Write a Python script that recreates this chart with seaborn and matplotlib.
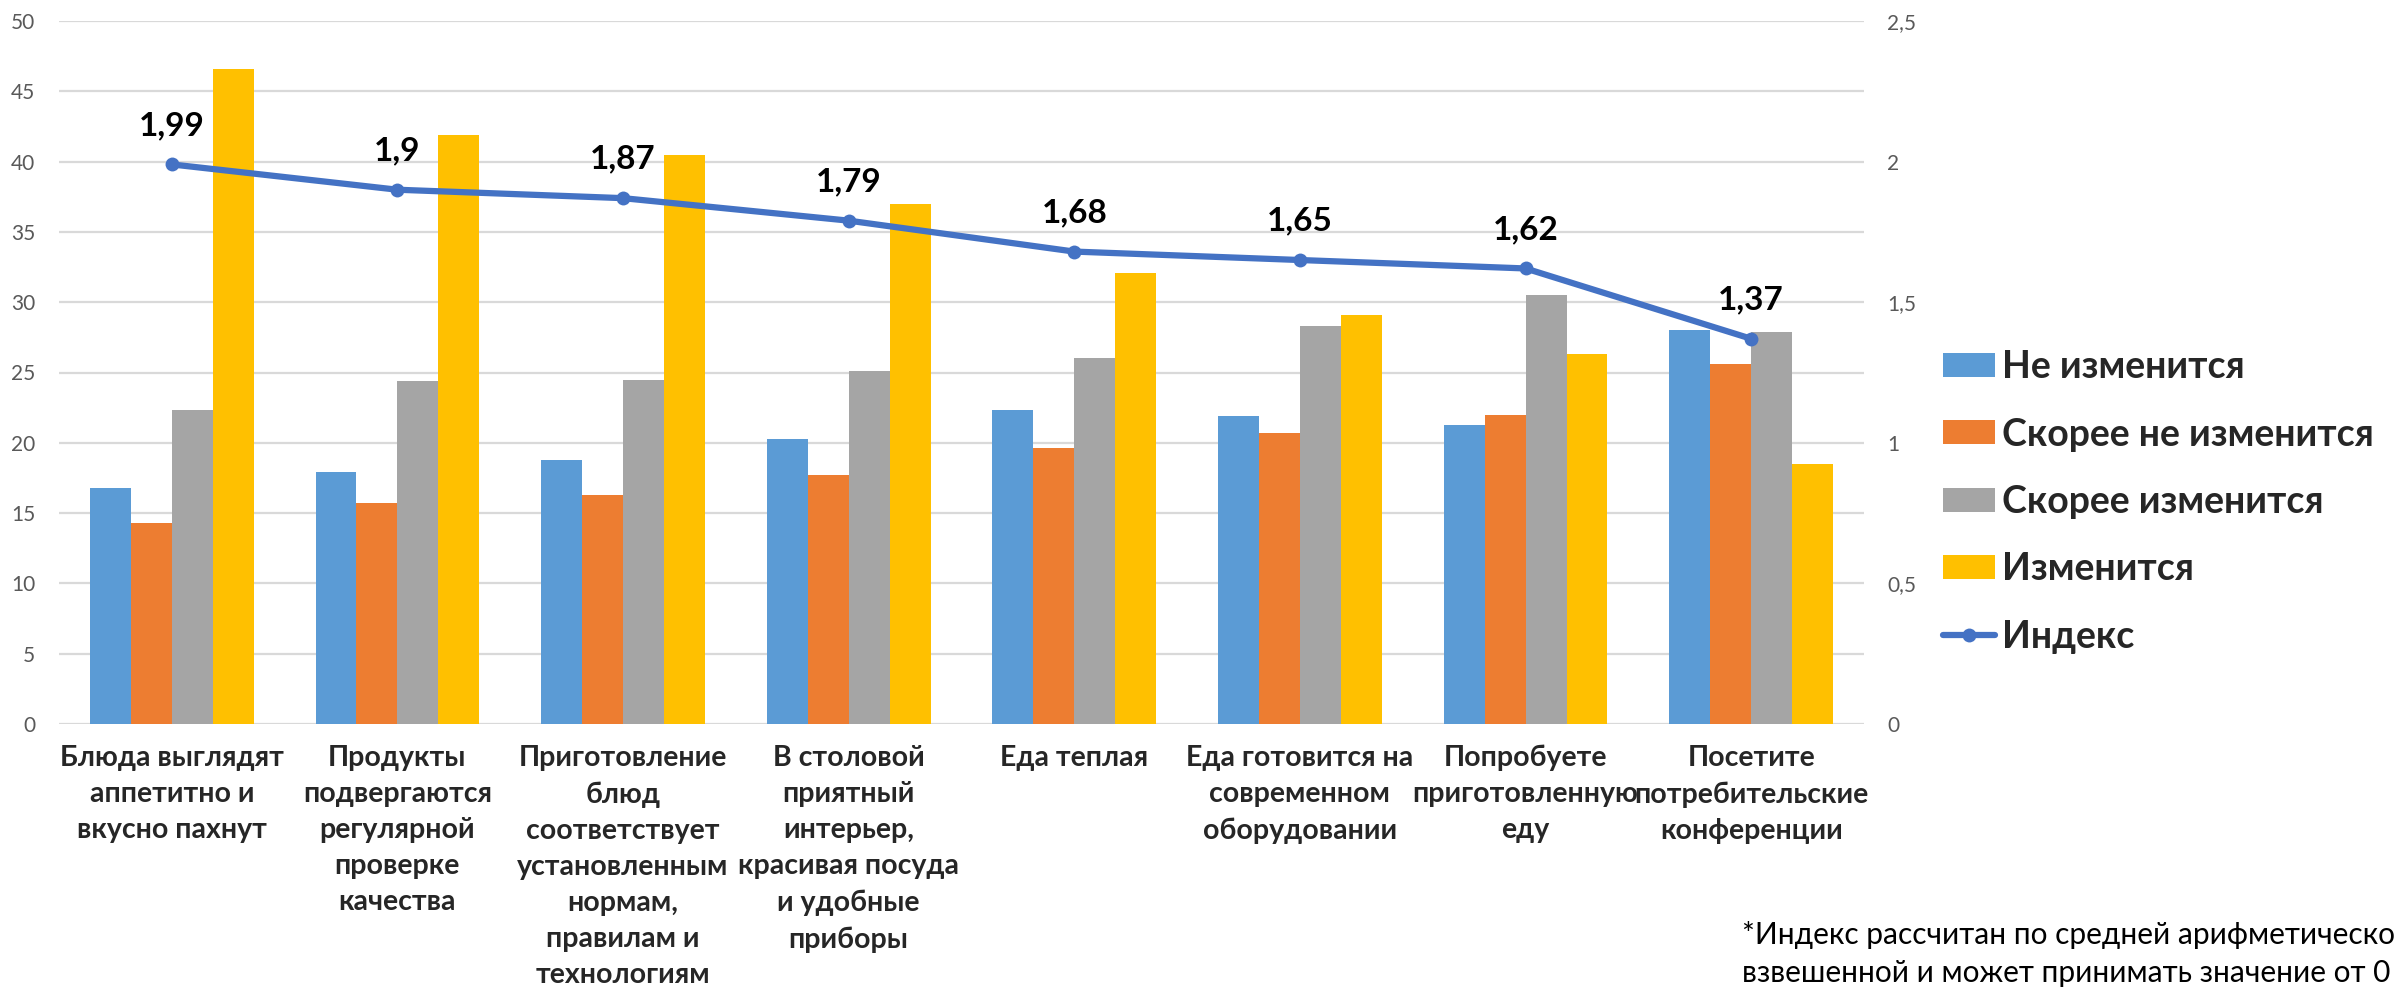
import numpy as np
import pandas as pd
import matplotlib
matplotlib.use('Agg')
import matplotlib.pyplot as plt
from matplotlib.ticker import FuncFormatter
from matplotlib.patches import Patch
from matplotlib.lines import Line2D
import seaborn as sns

sns.set_style('white')
plt.rcParams['font.family'] = ['Lato', 'Open Sans', 'DejaVu Sans']

# категории (подписи оси X)
categories = [
    'Блюда выглядят\nаппетитно и\nвкусно пахнут',
    'Продукты\nподвергаются\nрегулярной\nпроверке\nкачества',
    'Приготовление\nблюд\nсоответствует\nустановленным\nнормам,\nправилам и\nтехнологиям',
    'В столовой\nприятный\nинтерьер,\nкрасивая посуда\nи удобные\nприборы',
    'Еда теплая',
    'Еда готовится на\nсовременном\nоборудовании',
    'Попробуете\nприготовленную\nеду',
    'Посетите\nпотребительские\nконференции',
]

series = ['Не изменится', 'Скорее не изменится', 'Скорее изменится', 'Изменится']
ne_izmenitsya = [16.8, 17.9, 18.8, 20.3, 22.3, 21.9, 21.3, 28.0]
skoree_ne = [14.3, 15.7, 16.3, 17.7, 19.6, 20.7, 22.0, 25.6]
skoree_izm = [22.3, 24.4, 24.5, 25.1, 26.0, 28.3, 30.5, 27.9]
izmenitsya = [46.6, 41.9, 40.5, 37.0, 32.1, 29.1, 26.3, 18.5]
index_vals = [1.99, 1.9, 1.87, 1.79, 1.68, 1.65, 1.62, 1.37]

colors = ['#5B9BD5', '#ED7D31', '#A5A5A5', '#FFC000']
line_color = '#4472C4'

# длинный формат для seaborn
df = pd.DataFrame({
    'cat': np.repeat(categories, 4),
    'series': series * len(categories),
    'value': np.ravel(np.column_stack([ne_izmenitsya, skoree_ne, skoree_izm, izmenitsya])),
})

fig = plt.figure(figsize=(23.97, 9.9), dpi=100)
ax = fig.add_axes([59 / 2397, 1 - 724 / 990, 1805 / 2397, 703 / 990])

sns.barplot(data=df, x='cat', y='value', hue='series', order=categories,
            hue_order=series, palette=colors, width=0.726, gap=0,
            saturation=1, linewidth=0, legend=False, ax=ax, zorder=2)

ax.set_xlim(-0.5, len(categories) - 0.5)
ax.set_ylim(0, 50)
ax.set_yticks(np.arange(0, 51, 5))
ax.set_xlabel('')
ax.set_ylabel('')
ax.grid(axis='y', color='#D9D9D9', linewidth=1.6, zorder=0)
ax.set_axisbelow(True)
for s in ax.spines.values():
    s.set_visible(False)
ax.tick_params(axis='y', length=0, pad=17, labelsize=15, labelcolor='#595959')
ax.tick_params(axis='x', length=0, pad=15)
for lab in ax.get_xticklabels():
    lab.set_fontsize(20.5)
    lab.set_fontweight('bold')
    lab.set_linespacing(1.48)
    lab.set_verticalalignment('top')

# индекс на правой оси
ax2 = ax.twinx()
sns.lineplot(x=np.arange(len(index_vals)), y=index_vals, ax=ax2, color=line_color,
             linewidth=4.5, marker='o', markersize=10, markeredgewidth=0, zorder=5)
ax2.set_ylim(0, 2.5)
ax2.set_yticks(np.arange(0, 2.51, 0.5))
ax2.yaxis.set_major_formatter(FuncFormatter(lambda v, p: ('%g' % v).replace('.', ',')))
ax2.tick_params(axis='y', length=0, pad=16.5, labelsize=15, labelcolor='#595959')
for s in ax2.spines.values():
    s.set_visible(False)

for i, v in enumerate(index_vals):
    ax2.annotate(('%g' % v).replace('.', ','), (i, v), xytext=(0, 28),
                 textcoords='offset points', ha='center', va='center',
                 fontsize=24, fontweight='bold', color='black')

# легенда
handles = [Patch(facecolor=c, edgecolor='none') for c in colors]
handles.append(Line2D([0], [0], color=line_color, linewidth=4.5, marker='o',
                      markersize=10, markeredgewidth=0))
fig.legend(handles, series + ['Индекс'], loc='center left',
           bbox_to_anchor=(1943 / 2397, 1 - 502 / 990), frameon=False,
           prop={'size': 27, 'weight': 'bold'}, handlelength=1.39,
           handleheight=0.61, handletextpad=0.18, labelspacing=0.89,
           borderpad=0, borderaxespad=0)

# сноска
fig.text(1742 / 2397, 1 - 935 / 990, '*Индекс рассчитан по средней арифметической',
         fontsize=21.5, va='center', ha='left', color='black')
fig.text(1742 / 2397, 1 - 972 / 990, 'взвешенной и может принимать значение от 0 (',
         fontsize=21.5, va='center', ha='left', color='black')

fig.savefig('out.png', dpi=100)
